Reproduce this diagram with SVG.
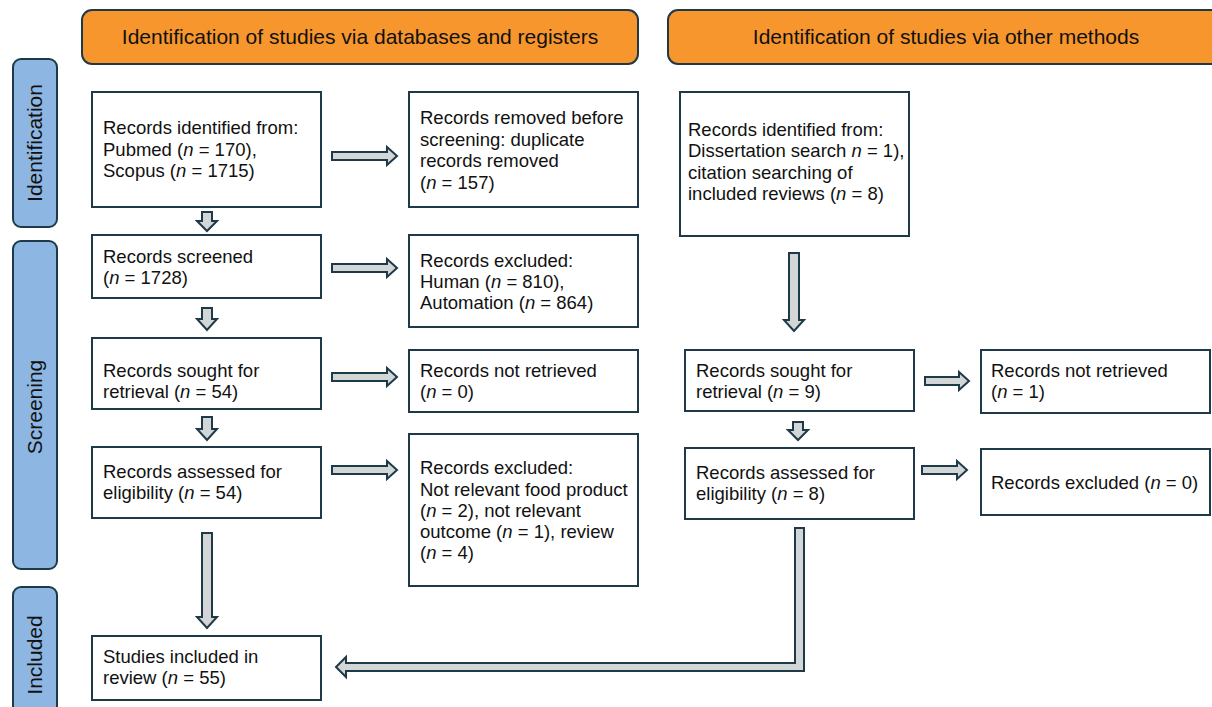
<svg xmlns="http://www.w3.org/2000/svg" width="1212" height="707" viewBox="0 0 1212 707">
<style>
.hdr{fill:#F7962D;stroke:#1E3A48;stroke-width:2}
.side{fill:#8DB6E2;stroke:#1E3A48;stroke-width:2}
.box{fill:#fff;stroke:#1E3A48;stroke-width:2}
.arr{fill:#D3D6D7;stroke:#1E3A48;stroke-width:2;stroke-linejoin:miter}
text{font-family:"Liberation Sans",Arial,sans-serif;fill:#111}
.t{font-size:18.5px}
.h{font-size:21px}
.s{font-size:21px}
</style>
<rect width="1212" height="707" fill="#fff"/>
<g id="header-left"><rect class="hdr" x="82" y="10" width="556" height="54" rx="10"/><text class="h" x="360" y="44" text-anchor="middle">Identification of studies via databases and registers</text></g>
<g id="header-right"><rect class="hdr" x="668" y="10" width="560" height="54" rx="10"/><text class="h" x="946" y="44" text-anchor="middle">Identification of studies via other methods</text></g>
<g id="side-identification"><rect class="side" x="13" y="59" width="44" height="168" rx="8"/><text class="s" transform="translate(42,143) rotate(-90)" text-anchor="middle">Identification</text></g>
<g id="side-screening"><rect class="side" x="13" y="241" width="44" height="328" rx="8"/><text class="s" transform="translate(42,407) rotate(-90)" text-anchor="middle">Screening</text></g>
<g id="side-included"><rect class="side" x="13" y="587" width="44" height="130" rx="8"/><text class="s" transform="translate(42,655) rotate(-90)" text-anchor="middle">Included</text></g>

<g id="connectors">
<path class="arr" d="M332,152 H387 V147 L397,156 L387,165 V160 H332 Z"/>
<path class="arr" d="M332,264 H387 V259 L397,268 L387,277 V272 H332 Z"/>
<path class="arr" d="M332,373 H387 V368 L397,377 L387,386 V381 H332 Z"/>
<path class="arr" d="M332,466 H387 V461 L397,470 L387,479 V474 H332 Z"/>
<path class="arr" d="M925,377 H959 V372 L969,381 L959,390 V385 H925 Z"/>
<path class="arr" d="M922,466 H957 V461 L967,470 L957,479 V474 H922 Z"/>
<path class="arr" d="M202,212 H212 V221 H217 L207,231 L197,221 H202 Z"/>
<path class="arr" d="M202,308 H212 V319 H217 L207,330 L197,319 H202 Z"/>
<path class="arr" d="M202,417 H212 V429 H217 L207,440 L197,429 H202 Z"/>
<path class="arr" d="M202,533 H212 V617 H217 L207,628 L197,617 H202 Z"/>
<path class="arr" d="M789,253 H799 V320 H804 L794,331 L784,320 H789 Z"/>
<path class="arr" d="M793,422 H803 V430 H808 L798,440 L788,430 H793 Z"/>
<path class="arr" d="M795,528 H804 V671 H346 V677 L336,667 L346,657 V663 H795 Z"/>
</g>

<g id="b1"><rect class="box" x="92" y="92" width="229" height="115"/><text class="t"><tspan x="103" y="134">Records identified from:</tspan><tspan x="103" y="156">Pubmed (<tspan font-style="italic">n</tspan> = 170),</tspan><tspan x="103" y="177">Scopus (<tspan font-style="italic">n</tspan> = 1715)</tspan></text></g>
<g id="b2"><rect class="box" x="409" y="92" width="229" height="115"/><text class="t"><tspan x="420" y="124">Records removed before</tspan><tspan x="420" y="146">screening: duplicate</tspan><tspan x="420" y="167">records removed</tspan><tspan x="420" y="189">(<tspan font-style="italic">n</tspan> = 157)</tspan></text></g>
<g id="b3"><rect class="box" x="92" y="235" width="229" height="63"/><text class="t"><tspan x="103" y="263">Records screened</tspan><tspan x="103" y="284">(<tspan font-style="italic">n</tspan> = 1728)</tspan></text></g>
<g id="b4"><rect class="box" x="409" y="235" width="229" height="92"/><text class="t"><tspan x="420" y="267">Records excluded:</tspan><tspan x="420" y="288">Human (<tspan font-style="italic">n</tspan> = 810),</tspan><tspan x="420" y="309">Automation (<tspan font-style="italic">n</tspan> = 864)</tspan></text></g>
<g id="b5"><rect class="box" x="92" y="338" width="229" height="71"/><text class="t"><tspan x="103" y="377">Records sought for</tspan><tspan x="103" y="398">retrieval (<tspan font-style="italic">n</tspan> = 54)</tspan></text></g>
<g id="b6"><rect class="box" x="409" y="350" width="229" height="62"/><text class="t"><tspan x="420" y="377">Records not retrieved</tspan><tspan x="420" y="398">(<tspan font-style="italic">n</tspan> = 0)</tspan></text></g>
<g id="b7"><rect class="box" x="92" y="447" width="229" height="71"/><text class="t"><tspan x="103" y="478">Records assessed for</tspan><tspan x="103" y="499">eligibility (<tspan font-style="italic">n</tspan> = 54)</tspan></text></g>
<g id="b8"><rect class="box" x="409" y="434" width="229" height="152"/><text class="t"><tspan x="420" y="474">Records excluded:</tspan><tspan x="420" y="496">Not relevant food product</tspan><tspan x="420" y="517">(<tspan font-style="italic">n</tspan> = 2), not relevant</tspan><tspan x="420" y="538">outcome (<tspan font-style="italic">n</tspan> = 1), review</tspan><tspan x="420" y="559">(<tspan font-style="italic">n</tspan> = 4)</tspan></text></g>
<g id="b9"><rect class="box" x="92" y="636" width="229" height="64"/><text class="t"><tspan x="103" y="663">Studies included in</tspan><tspan x="103" y="684">review (<tspan font-style="italic">n</tspan> = 55)</tspan></text></g>
<g id="r1"><rect class="box" x="680" y="92" width="229" height="144"/><text class="t"><tspan x="688" y="136">Records identified from:</tspan><tspan x="688" y="157">Dissertation search <tspan font-style="italic">n</tspan> = 1),</tspan><tspan x="688" y="179">citation searching of</tspan><tspan x="688" y="200">included reviews (<tspan font-style="italic">n</tspan> = 8)</tspan></text></g>
<g id="r2"><rect class="box" x="685" y="350" width="229" height="61"/><text class="t"><tspan x="696" y="377">Records sought for</tspan><tspan x="696" y="398">retrieval (<tspan font-style="italic">n</tspan> = 9)</tspan></text></g>
<g id="r3"><rect class="box" x="981" y="350" width="229" height="63"/><text class="t"><tspan x="991" y="377">Records not retrieved</tspan><tspan x="991" y="398">(<tspan font-style="italic">n</tspan> = 1)</tspan></text></g>
<g id="r4"><rect class="box" x="685" y="448" width="229" height="71"/><text class="t"><tspan x="696" y="479">Records assessed for</tspan><tspan x="696" y="500">eligibility (<tspan font-style="italic">n</tspan> = 8)</tspan></text></g>
<g id="r5"><rect class="box" x="981" y="449" width="229" height="66"/><text class="t"><tspan x="991" y="489">Records excluded (<tspan font-style="italic">n</tspan> = 0)</tspan></text></g>
</svg>
